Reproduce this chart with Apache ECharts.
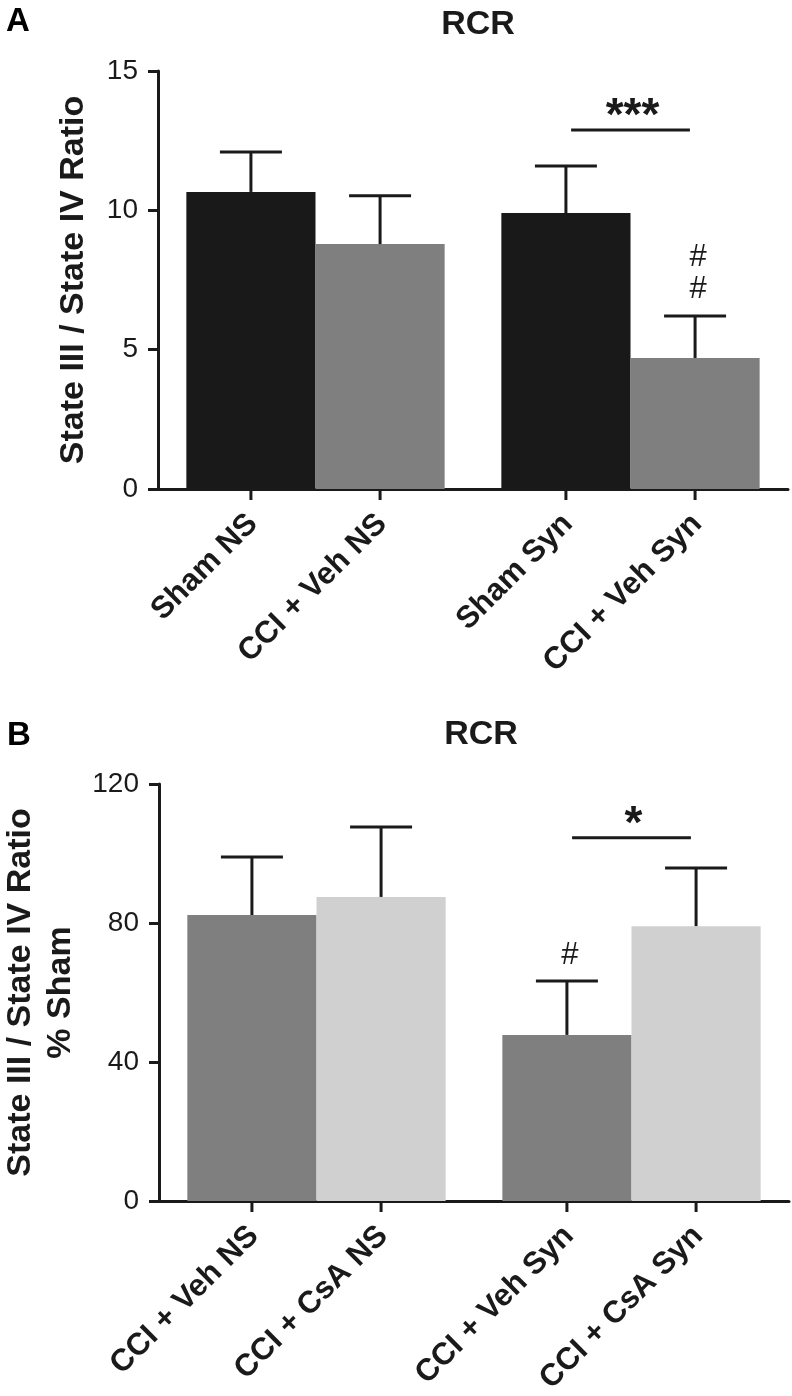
<!DOCTYPE html>
<html>
<head>
<meta charset="utf-8">
<script src="https://cdn.jsdelivr.net/npm/echarts@6/dist/echarts.min.js"></script>
<style>
html,body{margin:0;padding:0;background:#fff;}
#c{width:792px;height:1396px;}
</style>
</head>
<body>
<div id="c"></div>
<script>
// ---------- DATA ----------
// Panel A
const groupsA = ['NS', 'Syn'];
const seriesNamesA = ['Sham', 'CCI + Veh'];
const shamA = [10.66, 9.90];
const semShamA = [1.43, 1.69];
const cciVehA = [8.79, 4.70];
const semCciVehA = [1.73, 1.51];
const marksShamA = ['', ''];
const marksCciVehA = ['', '#\n#'];
const ticksA = [0, 5, 10, 15];
const sigA = { value: 12.88, text: '***' };

// Panel B
const groupsB = ['NS', 'Syn'];
const seriesNamesB = ['CCI + Veh', 'CCI + CsA'];
const cciVehB = [82.3, 47.8];
const semCciVehB = [16.7, 15.5];
const cciCsaB = [87.5, 79.1];
const semCciCsaB = [20.1, 16.7];
const marksVehB = ['', '#'];
const marksCsaB = ['', ''];
const ticksB = [0, 40, 80, 120];
const sigB = { value: 104.5, text: '*' };

// ---------- STYLE ----------
const FONT = '"Liberation Sans", Arial, Helvetica, sans-serif';
const INK = '#1a1a1a';
const GAP = 0.18;

function errSeries(name, xi, vals, sems, marks, pos, labels) {
  return {
    type: 'custom', name: name, xAxisIndex: xi, yAxisIndex: xi, clip: false, z: 5,
    data: vals.map((v, i) => [i, v, sems[i]]),
    renderItem: function (params, api) {
      const cat = api.value(0), v = api.value(1), e = api.value(2);
      const base = api.coord([cat, 0]);
      const bandW = api.size([1, 0])[0];
      const barW = bandW * (1 - GAP) / 2;
      const x = base[0] + pos * barW / 2;
      const yTop = api.coord([cat, v])[1];
      const yCap = api.coord([cat, v + e])[1];
      const y0 = base[1];
      const ls = { stroke: INK, lineWidth: 3 };
      const ch = [
        { type: 'line', shape: { x1: x, y1: yTop, x2: x, y2: yCap }, style: ls },
        { type: 'line', shape: { x1: x - 31, y1: yCap, x2: x + 31, y2: yCap }, style: ls },
        { type: 'line', shape: { x1: x, y1: y0, x2: x, y2: y0 + 11 }, style: ls },
        { type: 'text', x: x + 2, y: y0 + 30, rotation: Math.PI / 4,
          style: { text: labels[params.dataIndex], align: 'right', verticalAlign: 'middle',
                   font: 'bold 31px ' + FONT, fill: INK } }
      ];
      const m = marks[params.dataIndex];
      if (m) {
        ch.push({ type: 'text', x: x + 3, y: yCap - 10,
          style: { text: m, align: 'center', verticalAlign: 'bottom', font: '31px ' + FONT,
                   fill: INK, lineHeight: 32 } });
      }
      return { type: 'group', children: ch };
    }
  };
}

function sigSeries(xi, sig) {
  return {
    type: 'custom', xAxisIndex: xi, yAxisIndex: xi, clip: false, z: 5,
    data: [[1, sig.value]],
    renderItem: function (params, api) {
      const c = api.coord([api.value(0), api.value(1)]);
      const bandW = api.size([1, 0])[0];
      const half = bandW * (1 - GAP) / 2 * 0.46;
      return { type: 'group', children: [
        { type: 'line', shape: { x1: c[0] - half, y1: c[1], x2: c[0] + half, y2: c[1] },
          style: { stroke: INK, lineWidth: 3 } },
        { type: 'text', x: c[0] + 2, y: c[1] + 10,
          style: { text: sig.text, align: 'center', verticalAlign: 'bottom',
                   font: 'bold 46px ' + FONT, fill: INK } }
      ] };
    }
  };
}

function yAxisOf(gi, ticks, name, nameGap) {
  return {
    gridIndex: gi, type: 'value', min: ticks[0], max: ticks[ticks.length - 1],
    interval: ticks[1] - ticks[0],
    axisLine: { show: true, lineStyle: { color: INK, width: 3 } },
    axisTick: { show: true, length: 10, lineStyle: { color: INK, width: 3 } },
    axisLabel: { fontSize: 28, color: INK, margin: 20, fontFamily: FONT },
    splitLine: { show: false },
    name: name, nameLocation: 'middle', nameGap: nameGap,
    nameTextStyle: { fontSize: 34, fontWeight: 'bold', color: INK, fontFamily: FONT, lineHeight: 40 }
  };
}

function xAxisOf(gi, groups) {
  return {
    gridIndex: gi, type: 'category', data: groups,
    axisLine: { lineStyle: { color: INK, width: 3 } },
    axisTick: { show: false }, axisLabel: { show: false }
  };
}

const labelsA0 = groupsA.map(g => seriesNamesA[0] + ' ' + g);
const labelsA1 = groupsA.map(g => seriesNamesA[1] + ' ' + g);
const labelsB0 = groupsB.map(g => seriesNamesB[0] + ' ' + g);
const labelsB1 = groupsB.map(g => seriesNamesB[1] + ' ' + g);

const chart = echarts.init(document.getElementById('c'));
chart.setOption({
  animation: false,
  backgroundColor: '#fff',
  title: [
    { text: 'A', left: 1, top: 0, textStyle: { fontSize: 33, fontWeight: 'bold', color: '#000', fontFamily: FONT } },
    { text: 'RCR', left: 473, top: 3, textAlign: 'center', textStyle: { fontSize: 34, fontWeight: 'bold', color: INK, fontFamily: FONT } },
    { text: 'B', left: 2, top: 714, textStyle: { fontSize: 33, fontWeight: 'bold', color: '#000', fontFamily: FONT } },
    { text: 'RCR', left: 476, top: 713, textAlign: 'center', textStyle: { fontSize: 34, fontWeight: 'bold', color: INK, fontFamily: FONT } }
  ],
  grid: [
    { left: 158, top: 71, width: 630, height: 418, containLabel: false, outerBoundsMode: 'none' },
    { left: 159, top: 784, width: 630, height: 417, containLabel: false, outerBoundsMode: 'none' }
  ],
  xAxis: [xAxisOf(0, groupsA), xAxisOf(1, groupsB)],
  yAxis: [
    yAxisOf(0, ticksA, 'State III / State IV Ratio', 64),
    yAxisOf(1, ticksB, 'State III / State IV Ratio\n% Sham', 78)
  ],
  series: [
    { type: 'bar', name: seriesNamesA[0], xAxisIndex: 0, yAxisIndex: 0, data: shamA,
      barGap: '0%', barCategoryGap: (GAP * 100) + '%', itemStyle: { color: '#191919' } },
    { type: 'bar', name: seriesNamesA[1], xAxisIndex: 0, yAxisIndex: 0, data: cciVehA,
      barGap: '0%', barCategoryGap: (GAP * 100) + '%', itemStyle: { color: '#7f7f7f' } },
    errSeries('errA0', 0, shamA, semShamA, marksShamA, -1, labelsA0),
    errSeries('errA1', 0, cciVehA, semCciVehA, marksCciVehA, 1, labelsA1),
    sigSeries(0, sigA),
    { type: 'bar', name: seriesNamesB[0], xAxisIndex: 1, yAxisIndex: 1, data: cciVehB,
      barGap: '0%', barCategoryGap: (GAP * 100) + '%', itemStyle: { color: '#7f7f7f' } },
    { type: 'bar', name: seriesNamesB[1], xAxisIndex: 1, yAxisIndex: 1, data: cciCsaB,
      barGap: '0%', barCategoryGap: (GAP * 100) + '%', itemStyle: { color: '#d0d0d0' } },
    errSeries('errB0', 1, cciVehB, semCciVehB, marksVehB, -1, labelsB0),
    errSeries('errB1', 1, cciCsaB, semCciCsaB, marksCsaB, 1, labelsB1),
    sigSeries(1, sigB)
  ]
});
</script>
</body>
</html>
